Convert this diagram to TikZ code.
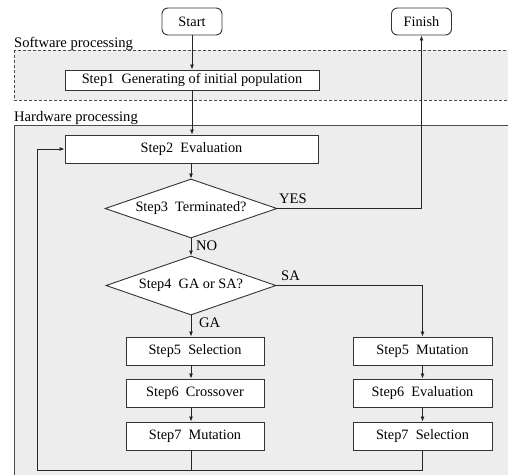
\documentclass[tikz,border=0pt]{standalone}
\usepackage{fontspec}
\setmainfont{Liberation Serif}
\usetikzlibrary{shapes.geometric,arrows.meta}
\begin{document}
\begin{tikzpicture}[x=1pt,y=-1pt,
  every node/.style={font=\fontsize{14.3}{16}\selectfont},
  box/.style={draw=black!80,line width=0.9pt,fill=white,inner sep=0pt},
  term/.style={box,rounded corners=6pt,minimum width=60pt,minimum height=27pt},
  dia/.style={box,shape=diamond,aspect=2.9},
  lbl/.style={inner sep=0pt,font=\fontsize{14.6}{16}\selectfont},
  conn/.style={draw=black!85,line width=0.8pt},
  arr/.style={conn,-{Latex[length=5pt,width=4pt]}},
  region/.style={fill=black!7,draw=black!70,line width=0.8pt}]
\useasboundingbox (0,0) rectangle (508,474);
\clip (0,0) rectangle (508,474);
\fill[white] (0,0) rectangle (508,474);
% regions
\draw[region,dashed,dash pattern=on 3pt off 2pt] (14,50) rectangle (530,100);
\draw[region] (14,125) rectangle (530,490);
\node[lbl,anchor=west] (swlbl) at (14,44) {Software processing};
\node[lbl,anchor=west] (hwlbl) at (14,118) {Hardware processing};
% nodes
\node[term] (start) at (192,21.5) {Start};
\node[term] (finish) at (421.5,21.5) {Finish};
\node[box,minimum width=254pt,minimum height=20pt] (s1) at (192,80) {Step1\enspace Generating of initial population};
\node[box,minimum width=253pt,minimum height=28pt] (s2) at (191.5,149) {Step2\enspace Evaluation};
\node[dia,minimum width=172pt,minimum height=59pt] (s3) at (191,208.5) {Step3\enspace Terminated?};
\node[dia,minimum width=170pt,minimum height=59pt] (s4) at (191,285.5) {Step4\enspace GA or SA?};
\node[box,minimum width=138pt,minimum height=28pt] (l5) at (195,351) {Step5\enspace Selection};
\node[box,minimum width=138pt,minimum height=28pt] (l6) at (195,393) {Step6\enspace Crossover};
\node[box,minimum width=138pt,minimum height=28pt] (l7) at (195,436) {Step7\enspace Mutation};
\node[box,minimum width=139pt,minimum height=28pt] (r5) at (422.5,351) {Step5\enspace Mutation};
\node[box,minimum width=139pt,minimum height=28pt] (r6) at (422.5,393) {Step6\enspace Evaluation};
\node[box,minimum width=139pt,minimum height=28pt] (r7) at (422.5,436) {Step7\enspace Selection};
% labels
\node[lbl,anchor=west] (yes) at (279,199) {YES};
\node[lbl,anchor=west] (no) at (196,246) {NO};
\node[lbl,anchor=west] (sa) at (281,276) {SA};
\node[lbl,anchor=west] (ga) at (199,323) {GA};
% connectors
\coordinate (bl) at (37,470);
\draw[arr] (start.south) -- (s1.north -| start.south);
\draw[arr] (s1.south -| start.south) -- (s2.north -| start.south);
\draw[arr] (s2.south -| s3.north) -- (s3.north);
\draw[arr] (s3.south) -- (s4.north);
\draw[arr] (s3.east) -- (s3.east -| finish.south) -- (finish.south);
\draw[arr] (s4.south) -- (l5.north -| s4.south);
\draw[arr] (l5.south -| s4.south) -- (l6.north -| s4.south);
\draw[arr] (l6.south -| s4.south) -- (l7.north -| s4.south);
\draw[arr] (s4.east) -- (s4.east -| r5.north) -- (r5.north);
\draw[arr] (r5.south) -- (r6.north);
\draw[arr] (r6.south) -- (r7.north);
\draw[conn] (r7.south) -- (r7.south |- bl) -- (bl);
\draw[conn] (l7.south -| s4.south) -- (bl -| s4.south);
\draw[arr] (bl) |- (s2.west);
\end{tikzpicture}
\end{document}
